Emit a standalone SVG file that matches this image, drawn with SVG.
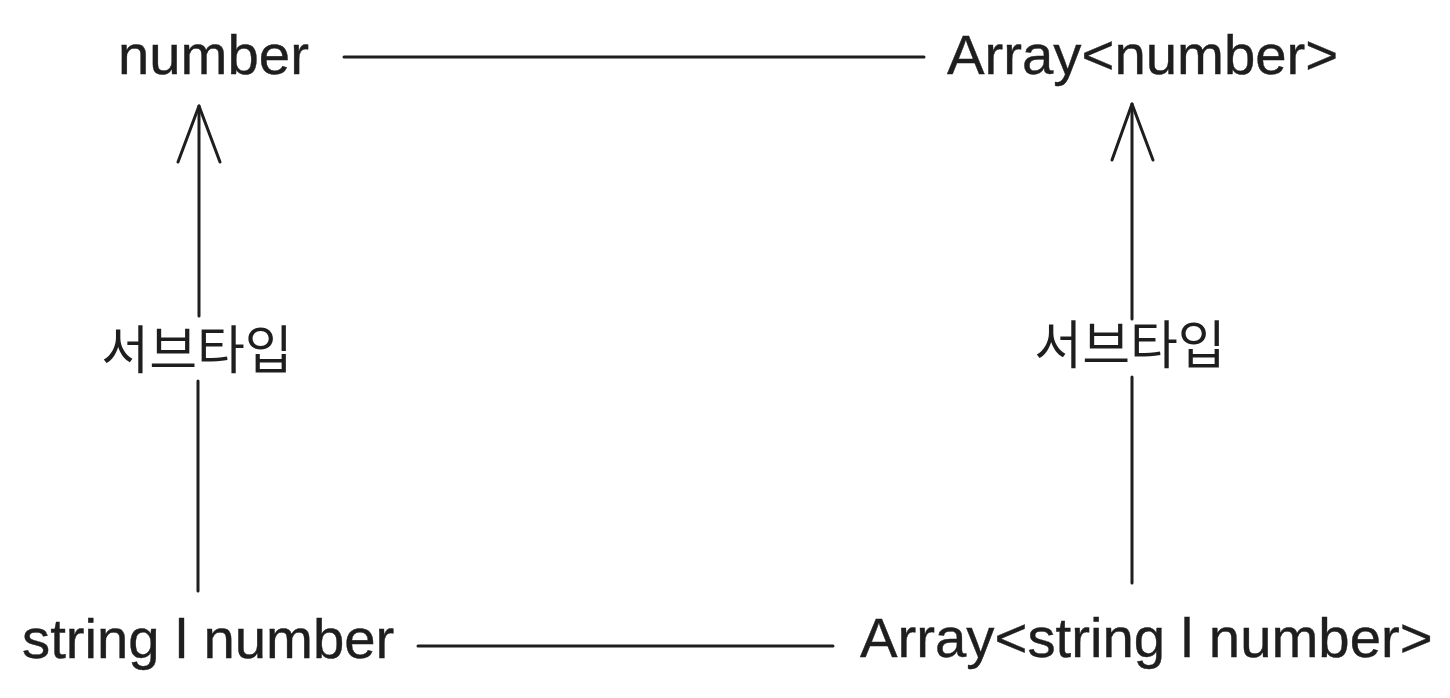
<svg xmlns="http://www.w3.org/2000/svg" width="1450" height="698" viewBox="0 0 1450 698">
<style>
.t{font-family:"Liberation Sans",Arial,sans-serif;font-size:56.3px;fill:#1e1e1e;stroke:#1e1e1e;stroke-width:0.4}
.k{font-family:"Noto Sans CJK KR","Noto Sans",sans-serif;font-size:52px;fill:#1e1e1e}
.c{stroke:#1e1e1e;stroke-width:3;fill:none;stroke-linecap:round;stroke-linejoin:round}
</style>
<rect width="1450" height="698" fill="#ffffff"/>
<g id="connectors">
<line class="c" x1="344" y1="57" x2="924" y2="57"/>
<line class="c" x1="418" y1="646" x2="833" y2="646"/>
<line class="c" x1="199" y1="106" x2="199" y2="316"/>
<line class="c" x1="198" y1="381" x2="198" y2="591"/>
<polyline class="c" points="178,162 199,106 220,162"/>
<line class="c" x1="1132" y1="104" x2="1132" y2="319"/>
<line class="c" x1="1132" y1="377" x2="1132" y2="583"/>
<polyline class="c" points="1112,160 1132,104 1153,160"/>
<text class="k" x="197" y="369" text-anchor="middle">서브타입</text>
<text class="k" x="1130" y="364" text-anchor="middle">서브타입</text>
</g>
<g id="n-number"><text class="t" x="118" y="74">number</text></g>
<g id="n-array-number"><text class="t" x="947" y="74">Array&lt;number&gt;</text></g>
<g id="n-string-number"><text class="t" x="22" y="658">string l number</text></g>
<g id="n-array-string-number"><text class="t" x="860" y="657">Array&lt;string l number&gt;</text></g>
</svg>
